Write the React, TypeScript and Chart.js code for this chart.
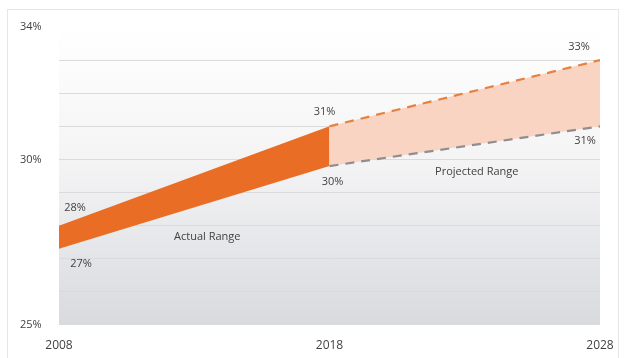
import React, { useEffect, useRef } from "react";
import { Chart, registerables } from "chart.js";

Chart.register(...registerables);

const years = [2008, 2018, 2028];
const actualYears = [2008, 2018];
const actualUpper = [28, 31];
const actualLower = [27.3, 29.8];
const projYears = [2018, 2028];
const projUpper = [31, 33];
const projLower = [29.8, 31];
const yLabelTicks = [25, 30, 34];
const actualUpperLabels = ["28%", "31%"];
const actualLowerLabels = ["27%", "30%"];
const projUpperLabels = ["", "33%"];
const projLowerLabels = ["", "31%"];
const rangeNames = ["Actual Range", "Projected Range"];

const FONT = "'Open Sans', 'Liberation Sans', sans-serif";
const TEXT = "#424242";

const bgPlugin = {
  id: "bgGradient",
  beforeDraw(chart: any) {
    const { ctx, chartArea } = chart;
    const g = ctx.createLinearGradient(0, chartArea.top, 0, chartArea.bottom);
    g.addColorStop(0, "#ffffff");
    g.addColorStop(0.45, "#f4f4f5");
    g.addColorStop(1, "#d8dade");
    ctx.save();
    ctx.fillStyle = g;
    ctx.fillRect(chartArea.left, chartArea.top, chartArea.right - chartArea.left, chartArea.bottom - chartArea.top);
    ctx.restore();
  },
};

// label offsets (style only)
const labelOffsets: Record<string, [number, number][]> = {
  "1": [[16, -18], [-5, -14]],
  "0": [[22, 15], [3, 16]],
  "3": [[0, 0], [-21, -13]],
  "2": [[0, 0], [-15, 15]],
};

const labelPlugin = {
  id: "valueLabels",
  afterDatasetsDraw(chart: any) {
    const { ctx } = chart;
    const xs = chart.scales.x;
    const ys = chart.scales.y;
    ctx.save();
    ctx.fillStyle = TEXT;
    ctx.textAlign = "center";
    ctx.textBaseline = "middle";
    ctx.font = `11px ${FONT}`;
    const sets: [number, number[], number[], string[]][] = [
      [0, actualYears, actualLower, actualLowerLabels],
      [1, actualYears, actualUpper, actualUpperLabels],
      [2, projYears, projLower, projLowerLabels],
      [3, projYears, projUpper, projUpperLabels],
    ];
    for (const [idx, xv, yv, labels] of sets) {
      labels.forEach((t, i) => {
        if (!t) return;
        const [dx, dy] = labelOffsets[String(idx)][i];
        ctx.fillText(t, xs.getPixelForValue(xv[i]) + dx, ys.getPixelForValue(yv[i]) + dy);
      });
    }
    // range names
    ctx.font = `11px ${FONT}`;
    ctx.fillText(rangeNames[0], xs.getPixelForValue(2013) + 13, ys.getPixelForValue(25) - 88);
    ctx.fillText(rangeNames[1], xs.getPixelForValue(2023) + 12, ys.getPixelForValue(25) - 153);
    ctx.restore();
  },
};

export default function App() {
  const ref = useRef<HTMLCanvasElement>(null);
  useEffect(() => {
    if (!ref.current) return;
    const toPts = (xv: number[], yv: number[]) => xv.map((x, i) => ({ x, y: yv[i] }));
    const chart = new Chart(ref.current, {
      type: "line",
      data: {
        datasets: [
          {
            data: toPts(actualYears, actualLower),
            borderWidth: 0,
            borderColor: "rgba(0,0,0,0)",
            pointRadius: 0,
            fill: false,
          },
          {
            data: toPts(actualYears, actualUpper),
            borderWidth: 0,
            borderColor: "rgba(0,0,0,0)",
            backgroundColor: "#e96d24",
            pointRadius: 0,
            fill: "-1",
          },
          {
            data: toPts(projYears, projLower),
            borderWidth: 2.2,
            borderColor: "#8e8e8e",
            borderDash: [9, 7],
            pointRadius: 0,
            fill: false,
          },
          {
            data: toPts(projYears, projUpper),
            borderWidth: 2.2,
            borderColor: "#e8803f",
            borderDash: [9, 7],
            backgroundColor: "#f9d4c3",
            pointRadius: 0,
            fill: "-1",
          },
        ],
      },
      options: {
        animation: false,
        responsive: false,
        maintainAspectRatio: false,
        layout: { padding: { left: 20, right: 24, top: 27, bottom: 0 } },
        plugins: { legend: { display: false }, tooltip: { enabled: false } },
        elements: { line: { tension: 0 } },
        scales: {
          x: {
            type: "linear",
            min: years[0],
            max: years[years.length - 1],
            afterBuildTicks: (s: any) => {
              s.ticks = years.map((v) => ({ value: v }));
            },
            afterFit: (s: any) => {
              s.height = 33;
            },
            grid: { display: false },
            border: { display: false },
            ticks: {
              padding: 5,
              color: TEXT,
              font: { family: FONT, size: 12 },
              maxRotation: 0,
              callback: (v: any) => String(v),
            },
          },
          y: {
            min: 25,
            max: 34,
            afterFit: (s: any) => {
              s.width = 39;
            },
            border: { display: false },
            grid: {
              drawTicks: false,
              color: (c: any) =>
                c.tick && (c.tick.value === 34 || c.tick.value === 25) ? "rgba(0,0,0,0)" : "#dadadc",
              lineWidth: 1,
            },
            ticks: {
              stepSize: 1,
              padding: 0,
              crossAlign: "far",
              color: TEXT,
              font: { family: FONT, size: 11 },
              callback: (v: any) => (yLabelTicks.includes(Number(v)) ? `${v}%` : ""),
            },
          },
        },
      },
      plugins: [bgPlugin, labelPlugin],
    } as any);
    return () => chart.destroy();
  }, []);
  return (
    <div style={{ position: "fixed", left: 0, top: 0, width: 624, height: 358, background: "#fff" }}>
      <div
        style={{
          position: "absolute",
          left: 7,
          top: 9,
          width: 610,
          height: 360,
          borderTop: "1px solid #e6e6e6",
          borderLeft: "1px solid #e6e6e6",
          borderRight: "1px solid #e6e6e6",
        }}
      />
      <canvas ref={ref} width={624} height={358} style={{ position: "absolute", left: 0, top: 0 }} />
    </div>
  );
}
